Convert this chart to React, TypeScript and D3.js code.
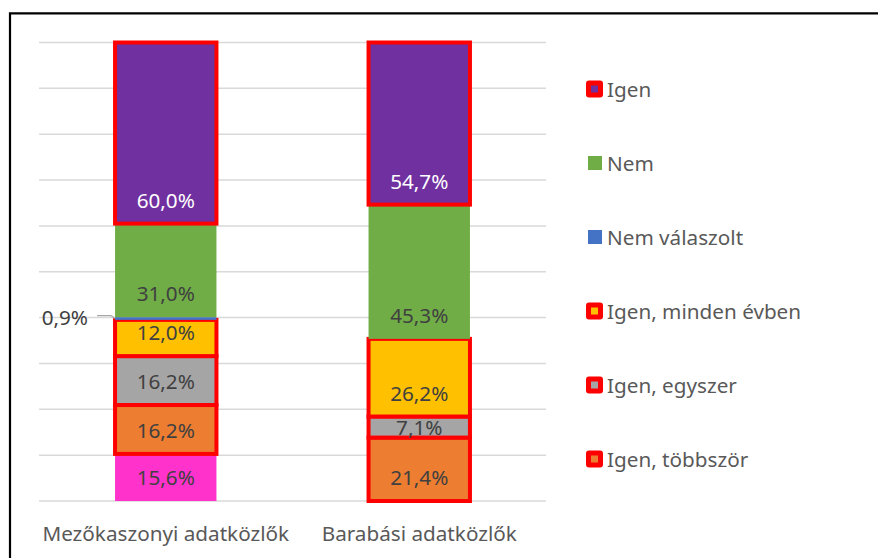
import * as d3 from "d3";

// categories on the x axis
const categories = ["Mezőkaszonyi adatközlők", "Barabási adatközlők"];

// series values (percent of respondents), bottom of the stack first
const unnamedValues = [15.6, 0];
const tobbszorValues = [16.2, 21.4];
const egyszerValues = [16.2, 7.1];
const mindenEvbenValues = [12.0, 26.2];
const nemValaszoltValues = [0.9, 0];
const nemValues = [31.0, 45.3];
const igenValues = [60.0, 54.7];

const series = [
  { key: "_", name: "", values: unnamedValues, color: "#FF33CC", outlined: false, legend: false },
  { key: "tobbszor", name: "Igen, többször", values: tobbszorValues, color: "#ED7D31", outlined: true, legend: true },
  { key: "egyszer", name: "Igen, egyszer", values: egyszerValues, color: "#A5A5A5", outlined: true, legend: true },
  { key: "minden", name: "Igen, minden évben", values: mindenEvbenValues, color: "#FFC000", outlined: true, legend: true },
  { key: "nemval", name: "Nem válaszolt", values: nemValaszoltValues, color: "#4472C4", outlined: false, legend: true },
  { key: "nem", name: "Nem", values: nemValues, color: "#70AD47", outlined: false, legend: true },
  { key: "igen", name: "Igen", values: igenValues, color: "#7030A0", outlined: true, legend: true },
];

const W = 878;
const H = 558;
const FONT = "'Noto Sans', sans-serif";
const FS = 20.7;

const fmt = (v: number) => v.toFixed(1).replace(".", ",") + "%";

export default function App() {
  const x = d3
    .scaleBand()
    .domain(categories)
    .range([39, 546])
    .paddingInner(0.6)
    .paddingOuter(0.3);
  const y = d3.scaleLinear().domain([0, 1]).range([501, 42.5]);

  const rows = categories.map((c, i) => {
    const r: any = { category: c };
    series.forEach((s) => (r[s.key] = s.values[i]));
    return r;
  });
  const stacked = d3
    .stack<any>()
    .keys(series.map((s) => s.key))
    .offset(d3.stackOffsetExpand)(rows);

  const legendItems = series.filter((s) => s.legend).reverse();
  const ly = d3
    .scalePoint()
    .domain(legendItems.map((s) => s.name))
    .range([89, 459]);

  const bw = x.bandwidth();

  return (
    <svg
      width={W}
      height={H}
      style={{ position: "absolute", left: 0, top: 0, background: "#fff" }}
      fontFamily={FONT}
    >
      <path d={`M10,${H + 5} V13.3 H${W + 5}`} fill="none" stroke="#000" strokeWidth={2.2} />

      {y.ticks(10).map((t) => (
        <line key={t} x1={39} x2={546} y1={y(t)} y2={y(t)} stroke="#d9d9d9" strokeWidth={1.5} />
      ))}

      {stacked.map((layer, si) => {
        const s = series[si];
        return (
          <g key={s.key}>
            {layer.map((d, ci) => {
              const v = s.values[ci];
              if (!v) return null;
              const x0 = x(categories[ci])!;
              const top = y(d[1]);
              const base = y(d[0]);
              return (
                <rect
                  key={ci}
                  x={x0}
                  y={top}
                  width={bw}
                  height={base - top}
                  fill={s.color}
                  stroke={s.outlined ? "#FF0000" : "none"}
                  strokeWidth={4}
                />
              );
            })}
          </g>
        );
      })}

      {stacked.map((layer, si) => {
        const s = series[si];
        return (
          <g key={s.key + "-lbl"} fontSize={FS}>
            {layer.map((d, ci) => {
              const v = s.values[ci];
              if (!v) return null;
              const x0 = x(categories[ci])!;
              const top = y(d[1]);
              const base = y(d[0]);
              const h = base - top;
              const cx = x0 + bw / 2;
              if (h < 10) {
                const cy = (top + base) / 2;
                const tx = x0 - 27;
                return (
                  <g key={ci}>
                    <polyline
                      points={`${tx + 9},${cy - 3} ${x0 - 4},${cy - 3} ${x0},${cy}`}
                      fill="none"
                      stroke="#a6a6a6"
                      strokeWidth={1.2}
                    />
                    <text x={tx} y={cy - 2} textAnchor="end" dominantBaseline="central" fill="#404040">
                      {fmt(v)}
                    </text>
                  </g>
                );
              }
              const ty = h < 28 ? (top + base) / 2 : base - 24;
              return (
                <text
                  key={ci}
                  x={cx}
                  y={ty}
                  textAnchor="middle"
                  dominantBaseline="central"
                  fill={s.key === "igen" ? "#ffffff" : "#404040"}
                >
                  {fmt(v)}
                </text>
              );
            })}
          </g>
        );
      })}

      {categories.map((c) => (
        <text
          key={c}
          x={x(c)! + bw / 2}
          y={533}
          textAnchor="middle"
          dominantBaseline="central"
          fontSize={FS}
          fill="#595959"
        >
          {c}
        </text>
      ))}

      {legendItems.map((s) => {
        const cy = ly(s.name)!;
        return (
          <g key={s.key}>
            {s.outlined ? (
              <>
                <rect x={586} y={cy - 8.5} width={17} height={17} rx={3} fill="#FF0000" />
                <rect x={591} y={cy - 3.5} width={7} height={7} fill={s.color} />
              </>
            ) : (
              <rect x={588} y={cy - 7} width={14} height={14} fill={s.color} />
            )}
            <text x={607} y={cy} dominantBaseline="central" fontSize={FS} fill="#595959">
              {s.name}
            </text>
          </g>
        );
      })}
    </svg>
  );
}
